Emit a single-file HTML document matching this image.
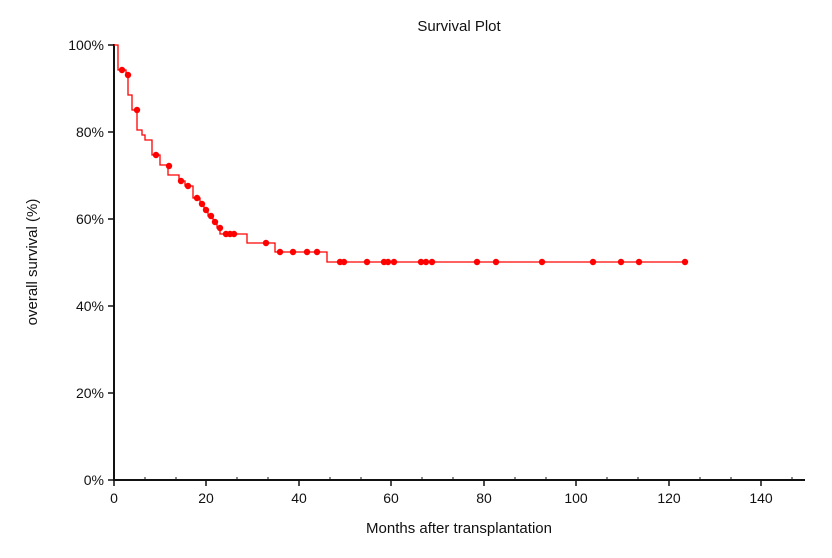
<!DOCTYPE html>
<html><head><meta charset="utf-8"><style>
html,body{margin:0;padding:0;background:#fff;}
svg{display:block;font-family:"Liberation Sans",Arial,sans-serif;}
</style></head><body>
<svg width="832" height="558" xmlns="http://www.w3.org/2000/svg">
<text x="459" y="31" font-size="15" text-anchor="middle" fill="#111">Survival Plot</text>
<g stroke="#111" stroke-width="2" fill="none">
<line x1="114" y1="44" x2="114" y2="481"/>
<line x1="113" y1="480" x2="805" y2="480"/>
</g>
<g stroke="#111" stroke-width="1.5">
<line x1="108" y1="45" x2="114" y2="45"/><line x1="108" y1="132" x2="114" y2="132"/>
<line x1="108" y1="219" x2="114" y2="219"/><line x1="108" y1="306" x2="114" y2="306"/>
<line x1="108" y1="393" x2="114" y2="393"/><line x1="108" y1="480" x2="114" y2="480"/>
<line x1="114" y1="480" x2="114" y2="486"/><line x1="206" y1="480" x2="206" y2="486"/>
<line x1="299" y1="480" x2="299" y2="486"/><line x1="391" y1="480" x2="391" y2="486"/>
<line x1="484" y1="480" x2="484" y2="486"/><line x1="576" y1="480" x2="576" y2="486"/>
<line x1="669" y1="480" x2="669" y2="486"/><line x1="761" y1="480" x2="761" y2="486"/>
</g>
<g stroke="#111" stroke-width="1">
<line x1="145" y1="477" x2="145" y2="480"/><line x1="176" y1="477" x2="176" y2="480"/>
<line x1="237" y1="477" x2="237" y2="480"/><line x1="268" y1="477" x2="268" y2="480"/>
<line x1="330" y1="477" x2="330" y2="480"/><line x1="361" y1="477" x2="361" y2="480"/>
<line x1="422" y1="477" x2="422" y2="480"/><line x1="453" y1="477" x2="453" y2="480"/>
<line x1="515" y1="477" x2="515" y2="480"/><line x1="546" y1="477" x2="546" y2="480"/>
<line x1="607" y1="477" x2="607" y2="480"/><line x1="638" y1="477" x2="638" y2="480"/>
<line x1="700" y1="477" x2="700" y2="480"/><line x1="731" y1="477" x2="731" y2="480"/>
<line x1="792" y1="477" x2="792" y2="480"/>
</g>
<g font-size="14" fill="#111" text-anchor="end">
<text x="104" y="50">100%</text><text x="104" y="137">80%</text><text x="104" y="224">60%</text>
<text x="104" y="311">40%</text><text x="104" y="398">20%</text><text x="104" y="485">0%</text>
</g>
<g font-size="14" fill="#111" text-anchor="middle">
<text x="114" y="503">0</text><text x="206" y="503">20</text><text x="299" y="503">40</text>
<text x="391" y="503">60</text><text x="484" y="503">80</text><text x="576" y="503">100</text>
<text x="669" y="503">120</text><text x="761" y="503">140</text>
</g>
<text x="459" y="533" font-size="15" text-anchor="middle" fill="#111">Months after transplantation</text>
<text transform="translate(37,262) rotate(-90)" font-size="15" text-anchor="middle" fill="#111">overall survival  (%)</text>
<polyline fill="none" stroke="#f00" stroke-width="1.3" points="114,45 118,45 118,70 126,70 126,75 128,75 128,95 132,95 132,110 137,110 137,130 142,130 142,135 145,135 145,140 152,140 152,155 160,155 160,165 168,165 168,175 179,175 179,181 185,181 185,186 193,186 193,198 200,198 200,204 204,204 204,210 208,210 208,216 213,216 213,222 217,222 217,228 220,228 220,234 247,234 247,243 275,243 275,252 327,252 327,262 685,262"/>
<g fill="#f00">
<circle cx="122" cy="70" r="3.2"/><circle cx="128" cy="75" r="3.2"/><circle cx="137" cy="110" r="3.2"/>
<circle cx="156" cy="155" r="3.2"/><circle cx="169" cy="166" r="3.2"/><circle cx="181" cy="181" r="3.2"/>
<circle cx="188" cy="186" r="3.2"/><circle cx="197" cy="198" r="3.2"/><circle cx="202" cy="204" r="3.2"/>
<circle cx="206" cy="210" r="3.2"/><circle cx="211" cy="216" r="3.2"/><circle cx="215" cy="222" r="3.2"/>
<circle cx="220" cy="228" r="3.2"/><circle cx="226" cy="234" r="3.2"/><circle cx="230" cy="234" r="3.2"/>
<circle cx="234" cy="234" r="3.2"/><circle cx="266" cy="243" r="3.2"/><circle cx="280" cy="252" r="3.2"/>
<circle cx="293" cy="252" r="3.2"/><circle cx="307" cy="252" r="3.2"/><circle cx="317" cy="252" r="3.2"/>
<circle cx="340" cy="262" r="3.2"/><circle cx="344" cy="262" r="3.2"/><circle cx="367" cy="262" r="3.2"/>
<circle cx="384" cy="262" r="3.2"/><circle cx="388" cy="262" r="3.2"/><circle cx="394" cy="262" r="3.2"/>
<circle cx="421" cy="262" r="3.2"/><circle cx="426" cy="262" r="3.2"/><circle cx="432" cy="262" r="3.2"/>
<circle cx="477" cy="262" r="3.2"/><circle cx="496" cy="262" r="3.2"/><circle cx="542" cy="262" r="3.2"/>
<circle cx="593" cy="262" r="3.2"/><circle cx="621" cy="262" r="3.2"/><circle cx="639" cy="262" r="3.2"/>
<circle cx="685" cy="262" r="3.2"/>
</g>
</svg>
</body></html>
